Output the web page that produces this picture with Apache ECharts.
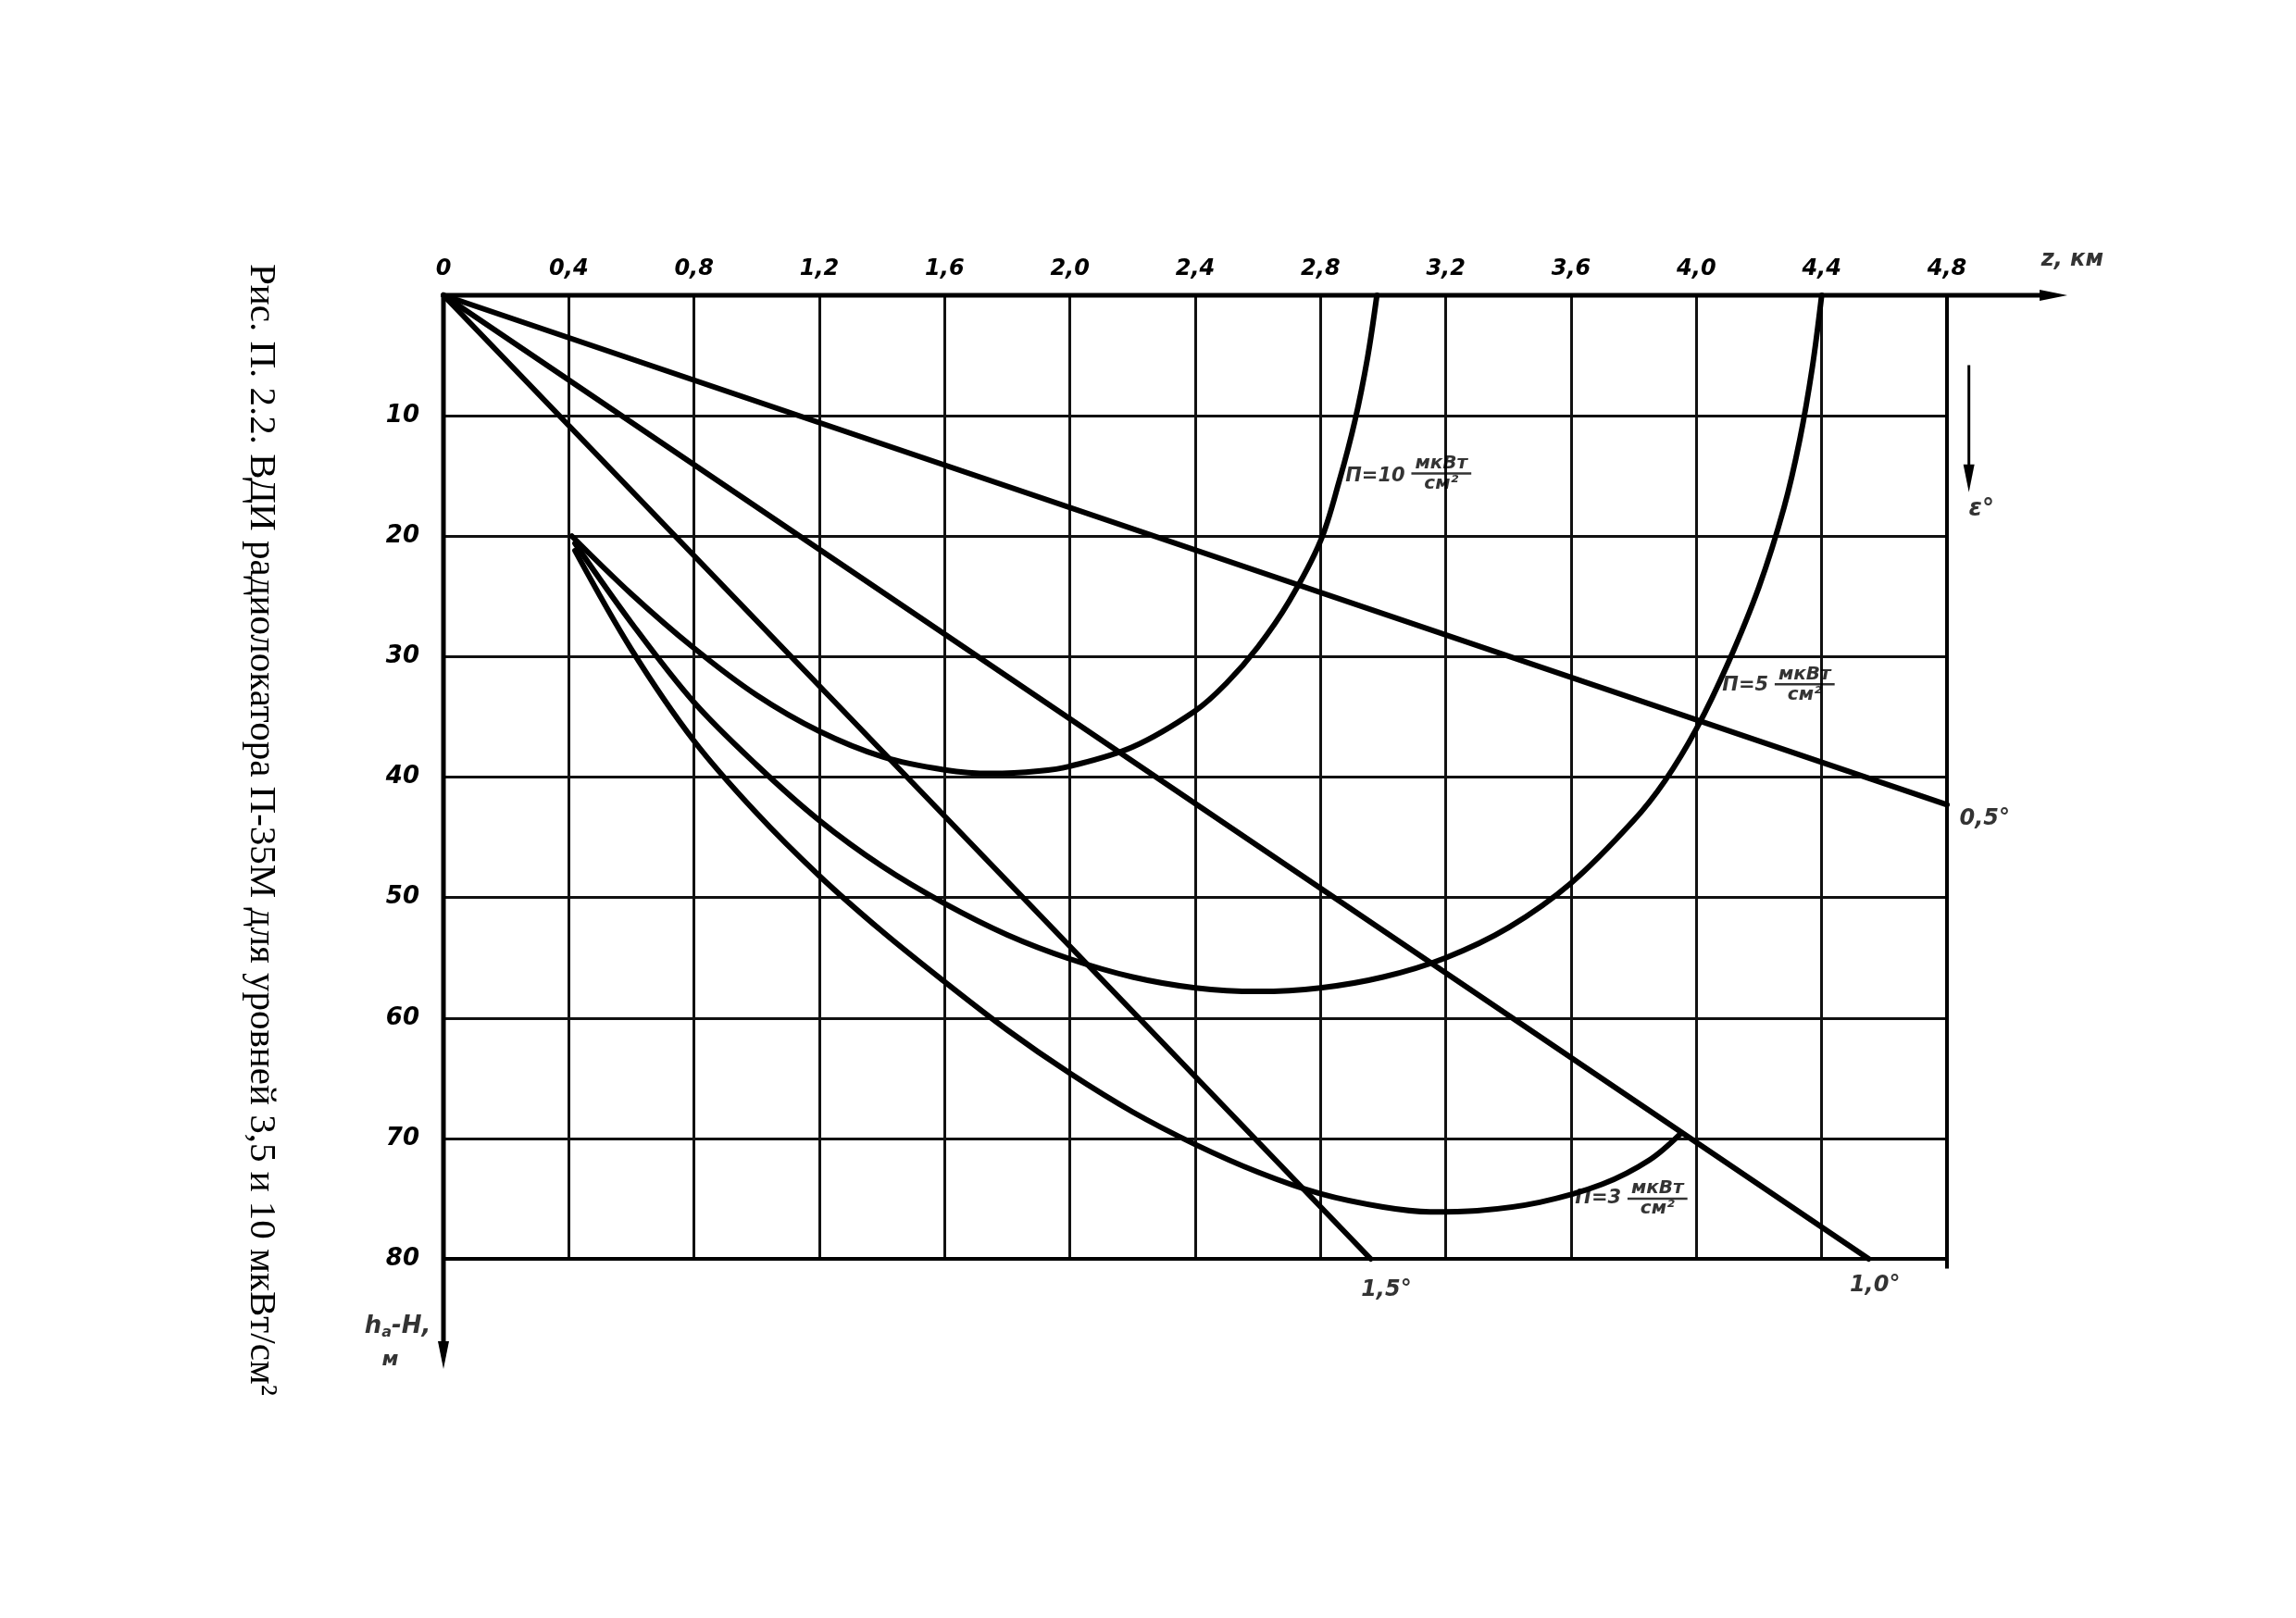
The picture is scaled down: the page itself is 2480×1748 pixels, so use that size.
<!DOCTYPE html>
<html><head><meta charset="utf-8">
<script src="https://cdn.jsdelivr.net/npm/echarts@6.0.0/dist/echarts.min.js"></script>
<style>html,body{margin:0;padding:0;background:#fff}#c{width:2480px;height:1748px}</style>
</head><body><div id="c"></div>
<script>
// ---- tick values ----
const xTickValues = [0, 0.4, 0.8, 1.2, 1.6, 2.0, 2.4, 2.8, 3.2, 3.6, 4.0, 4.4, 4.8];
const yTickValues = [10, 20, 30, 40, 50, 60, 70, 80];

// ---- elevation-angle lines (r, km ; h_a - H, m) ----
const angleLine05 = [[0, 0], [4.8, 42.3]];
const angleLine10 = [[0, 0], [4.55, 80]];
const angleLine15 = [[0, 0], [2.96, 80]];
const angleNames = ['0,5°', '1,0°', '1,5°'];

// ---- power density level curves ----
const levelNames = ['П=10', 'П=5', 'П=3'];
const curveP10 = [[0.41,20.0],[0.6,24.8],[0.8,29.3],[1.0,33.2],[1.2,36.2],[1.4,38.3],[1.6,39.4],[1.75,39.7],[1.9,39.5],[2.0,39.1],[2.2,37.5],[2.4,34.5],[2.5,32.2],[2.6,29.2],[2.7,25.4],[2.8,20.4],[2.86,15.4],[2.91,10.4],[2.95,5.2],[2.98,0]];
const curveP5 = [[0.42,20.6],[0.6,27.2],[0.8,33.8],[1.0,39.0],[1.2,43.6],[1.4,47.4],[1.6,50.5],[1.8,53.1],[2.0,55.1],[2.2,56.6],[2.4,57.5],[2.6,57.8],[2.8,57.5],[3.0,56.6],[3.2,55.0],[3.4,52.5],[3.6,48.8],[3.8,43.6],[3.9,40.3],[4.0,36.0],[4.1,30.6],[4.2,24.2],[4.28,17.6],[4.33,12.0],[4.37,6.0],[4.40,0]];
const curveP3 = [[0.42,21.2],[0.6,29.4],[0.8,37.0],[1.0,43.0],[1.2,48.2],[1.4,52.8],[1.6,57.0],[1.8,61.0],[2.0,64.6],[2.2,67.8],[2.4,70.5],[2.6,72.8],[2.8,74.6],[3.0,75.7],[3.15,76.1],[3.3,76.0],[3.5,75.3],[3.7,73.8],[3.85,71.8],[3.95,69.6]];

// ---- frame / axis lines (data units) ----
const axisTop = [[0, 0], [5.14, 0]];
const axisLeft = [[0, 0], [0, 88]];
const edgeRight = [[4.8, 0], [4.8, 80.8]];
const edgeBottom = [[0, 80], [4.8, 80]];
const epsArrow = [[4.87, 5.8], [4.87, 15.2]];

// ---- label anchors (data units) ----
const levelNameAt = [[3.07, 15.0], [4.23, 32.4], [3.76, 75.0]];
const unitLeftAt = [[3.09, 14.8], [4.25, 32.3], [3.78, 75.0]];
const angleLabelAt = [[4.84, 43.5], [4.57, 82.2], [3.01, 82.6]];

const HAND = '"DejaVu Sans"';
const handStyle = {fontFamily: HAND, fontStyle: 'italic', fontWeight: 'bold', color: '#000'};

function frameSeries(data, width, rot) {
  return {
    type: 'line', xAxisIndex: 1, yAxisIndex: 1, silent: true, clip: false, symbol: 'none', showSymbol: true, z: 5,
    lineStyle: {color: '#000', width: width, cap: 'butt'},
    data: data.map((p, i) => (i === data.length - 1 && rot !== null)
      ? {value: p, symbol: 'triangle', symbolSize: [12, 30], symbolRotate: rot, itemStyle: {color: '#000'}}
      : {value: p})
  };
}
function plotLine(data, smooth) {
  return {type: 'line', silent: true, clip: false, symbol: 'none', smooth: smooth, z: 4,
    lineStyle: {color: '#000', width: 6, cap: 'round', join: 'round'}, data: data};
}
function textPoint(pos, formatter, align, vAlign, rich, fontSize) {
  return {value: pos, label: Object.assign({show: true, position: 'inside', formatter: formatter,
    align: align, verticalAlign: vAlign, fontSize: fontSize, rich: rich}, handStyle)};
}
const fracRich = {
  n: Object.assign({fontSize: 20, align: 'center', lineHeight: 22, padding: [0, 4, 0, 4]}, handStyle),
  hr: {borderColor: '#000', borderWidth: 2.5, width: '100%', height: 0},
  d: Object.assign({fontSize: 20, align: 'center', lineHeight: 22}, handStyle)
};
const labelData = [];
levelNames.forEach((nm, i) => {
  labelData.push(textPoint(levelNameAt[i], nm, 'right', 'middle', {}, 21));
  labelData.push(textPoint(unitLeftAt[i], '{n|мкВт}\n{hr|}\n{d|см²}', 'left', 'middle', fracRich, 20));
});
labelData.push(textPoint(angleLabelAt[0], angleNames[0], 'left', 'middle', {}, 24));
labelData.push(textPoint(angleLabelAt[1], angleNames[1], 'center', 'middle', {}, 24));
labelData.push(textPoint(angleLabelAt[2], angleNames[2], 'center', 'middle', {}, 24));
labelData.push(textPoint([5.2, -2.9], 'z, км', 'center', 'middle', {}, 24));
labelData.push(textPoint([4.91, 17.8], 'ε°', 'center', 'middle', {}, 26));
labelData.push(textPoint([-0.04, 85.6], '{h|h}{s|a}{h|-H,}', 'right', 'middle', {
  h: Object.assign({fontSize: 26}, handStyle),
  s: Object.assign({fontSize: 16, verticalAlign: 'bottom', padding: [14, 0, 0, 0]}, handStyle)
}, 26));
labelData.push(textPoint([-0.17, 88.4], 'м', 'center', 'middle', {}, 22));

const GL = 479, GT = 319, GW = 1624, GH = 1041;
const xMaxFrame = 5.2;
const chart = echarts.init(document.getElementById('c'), null, {renderer: 'canvas'});
chart.setOption({
  animation: false,
  backgroundColor: '#fff',
  grid: [
    {left: GL, top: GT, width: GW, height: GH},
    {left: GL, top: GT, width: GW * xMaxFrame / xTickValues[xTickValues.length - 1], height: GH}
  ],
  xAxis: [{
    type: 'value', position: 'top', min: xTickValues[0], max: xTickValues[xTickValues.length - 1], interval: 0.4,
    axisLine: {show: false}, axisTick: {show: false},
    splitLine: {show: true, lineStyle: {color: '#111', width: 3}},
    axisLabel: Object.assign({fontSize: 24, margin: 16, showMinLabel: true, showMaxLabel: true,
      formatter: v => v === 0 ? '0' : v.toFixed(1).replace('.', ',')}, handStyle)
  }, {
    gridIndex: 1, type: 'value', min: 0, max: xMaxFrame, show: false
  }],
  yAxis: [{
    type: 'value', inverse: true, min: 0, max: yTickValues[yTickValues.length - 1], interval: 10,
    axisLine: {show: false}, axisTick: {show: false},
    splitLine: {show: true, lineStyle: {color: '#111', width: 3}},
    axisLabel: Object.assign({fontSize: 26, margin: 26, showMaxLabel: true,
      formatter: v => yTickValues.indexOf(v) >= 0 ? String(v) : ''}, handStyle)
  }, {
    gridIndex: 1, type: 'value', inverse: true, min: 0, max: yTickValues[yTickValues.length - 1], show: false
  }],
  graphic: [{
    type: 'text', x: 282, y: 285, rotation: -Math.PI / 2,
    style: {text: 'Рис. П. 2.2. ВДИ радиолокатора П-35М для уровней 3,5 и 10 мкВт/см²',
      fontFamily: '"Liberation Serif"', fontSize: 41, fill: '#000', textAlign: 'left', textVerticalAlign: 'middle'}
  }],
  series: [
    frameSeries(axisTop, 5, -90),
    frameSeries(axisLeft, 5, 180),
    frameSeries(edgeRight, 4, null),
    frameSeries(edgeBottom, 4, null),
    frameSeries(epsArrow, 3, 180),
    plotLine(angleLine05, false),
    plotLine(angleLine10, false),
    plotLine(angleLine15, false),
    plotLine(curveP10, 0.35),
    plotLine(curveP5, 0.35),
    plotLine(curveP3, 0.35),
    {type: 'scatter', xAxisIndex: 1, yAxisIndex: 1, silent: true, clip: false, symbolSize: 0, z: 6, data: labelData}
  ]
});
</script></body></html>
